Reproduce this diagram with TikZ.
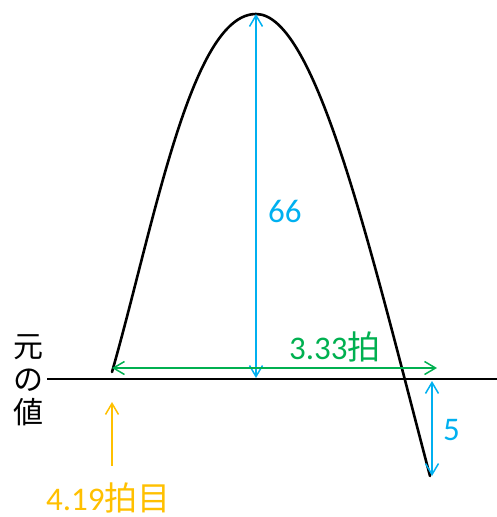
\documentclass[tikz,border=0pt]{standalone}
\usepackage{fontspec}
\setmainfont{Carlito}
\newfontfamily\cjk{Noto Sans CJK JP}
\usetikzlibrary{arrows.meta}
\definecolor{cblue}{HTML}{00B0F0}
\definecolor{cgreen}{HTML}{00B050}
\definecolor{corange}{HTML}{FFC000}
\tikzset{
  dim/.style={line width=1.5pt, {Straight Barb[length=11pt,width=13pt]}-{Straight Barb[length=11pt,width=13pt]}},
  onearrow/.style={line width=1.5pt, -{Straight Barb[length=11pt,width=13pt]}},
  lbl/.style={inner sep=0pt, anchor=base west, font=\fontsize{33}{36}\selectfont}
}
\begin{document}
\begin{tikzpicture}[x=1pt,y=-1pt]
\useasboundingbox (0,0) rectangle (497,517);
% baseline
\coordinate (bl) at (47,379);
\coordinate (br) at (497,379);
\draw[line width=1.5pt] (bl) -- (br);
% curve
\coordinate (cstart) at (112,372);
\coordinate (peak) at (256,14);
\coordinate (cend) at (430,476);
\draw[line width=2.6pt, line cap=round, line join=round]
  (cstart) .. controls (154,225) and (191,14) .. (peak)
           .. controls (316,14) and (370,248) .. (cend);
% coordinates
\coordinate (pbase) at (256,378);
\coordinate (gl) at (112,368);
\coordinate (gr) at (437,368);
\coordinate (ft) at (432,381);
\coordinate (fb) at (432,476);
\coordinate (os) at (112,466);
\coordinate (oe) at (112,402);
% dimension arrows
\draw[dim, cblue] (peak) -- (pbase);
\draw[dim, cgreen] (gl) -- (gr);
\draw[dim, cblue] (ft) -- (fb);
\draw[onearrow, corange] (os) -- (oe);
% labels
\node[lbl, text=cblue] (h66) at (268,222) {66};
\node[lbl, text=cgreen] (w333) at (289,359) {3.33{\cjk 拍}};
\node[lbl, text=cblue] (d5) at (443,440) {5};
\node[lbl, text=corange] (t419) at (46,510) {4.19{\cjk 拍目}};
\node[inner sep=0pt, font=\cjk\fontsize{30}{33}\selectfont, align=center] (orig) at (28,380) {元\\の\\値};
\end{tikzpicture}
\end{document}
